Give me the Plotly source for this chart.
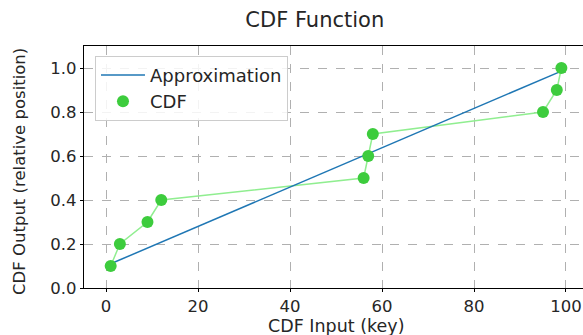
import plotly.graph_objects as go

cdf_x = [1, 3, 9, 12, 56, 57, 58, 95, 98, 99]
cdf_y = [0.1, 0.2, 0.3, 0.4, 0.5, 0.6, 0.7, 0.8, 0.9, 1.0]
approx_x = [1, 99]
approx_y = [0.11, 0.986]

x_ticks = [0, 20, 40, 60, 80, 100]
y_ticks = [0.0, 0.2, 0.4, 0.6, 0.8, 1.0]

font = "DejaVu Sans"
txt = "#262626"

fig = go.Figure()
fig.add_trace(go.Scatter(x=cdf_x, y=cdf_y, mode="lines", line=dict(color="#90ee90", width=1.5),
                         showlegend=False, hoverinfo="skip"))
fig.add_trace(go.Scatter(x=approx_x, y=approx_y, mode="lines", name="Approximation",
                         line=dict(color="#1f77b4", width=1.5)))
fig.add_trace(go.Scatter(x=cdf_x, y=cdf_y, mode="markers", name="CDF",
                         marker=dict(color="#3dcc3d", size=12)))

grid = dict(showgrid=True, gridcolor="#b0b0b0", griddash="dash", gridwidth=1,
            showline=True, linecolor="black", linewidth=1.2, mirror=True,
            ticks="outside", ticklen=3, tickcolor="black",
            tickfont=dict(family=font, size=16.5, color=txt), zeroline=False)

fig.update_layout(
    width=583, height=335,
    margin=dict(l=84, r=0, t=46, b=47),
    paper_bgcolor="white", plot_bgcolor="white",
    title=dict(text="CDF Function", x=0.54, xanchor="center", y=0.94, yanchor="middle",
               font=dict(family=font, size=21, color=txt)),
    xaxis=dict(range=[-4.8, 103.7], tickvals=x_ticks, ticktext=[str(v) for v in x_ticks], **grid),
    yaxis=dict(range=[0, 1.1], tickvals=y_ticks, ticktext=[f"{v:.1f}" for v in y_ticks], **grid),
    legend=dict(x=0.022, y=0.96, xanchor="left", yanchor="top",
                bgcolor="rgba(255,255,255,0.85)", bordercolor="#cccccc", borderwidth=1,
                font=dict(family=font, size=18, color=txt), itemwidth=44, tracegroupgap=0),
)

fig.add_annotation(text="CDF Input (key)", xref="paper", yref="paper", x=0.507, y=-0.155,
                   xanchor="center", yanchor="middle", showarrow=False,
                   font=dict(family=font, size=17.5, color=txt))
fig.add_annotation(text="CDF Output (relative position)", xref="paper", yref="paper",
                   x=-0.128, y=0.48, xanchor="center", yanchor="middle", textangle=-90,
                   showarrow=False, font=dict(family=font, size=16.5, color=txt))

fig.write_html("out.html")
